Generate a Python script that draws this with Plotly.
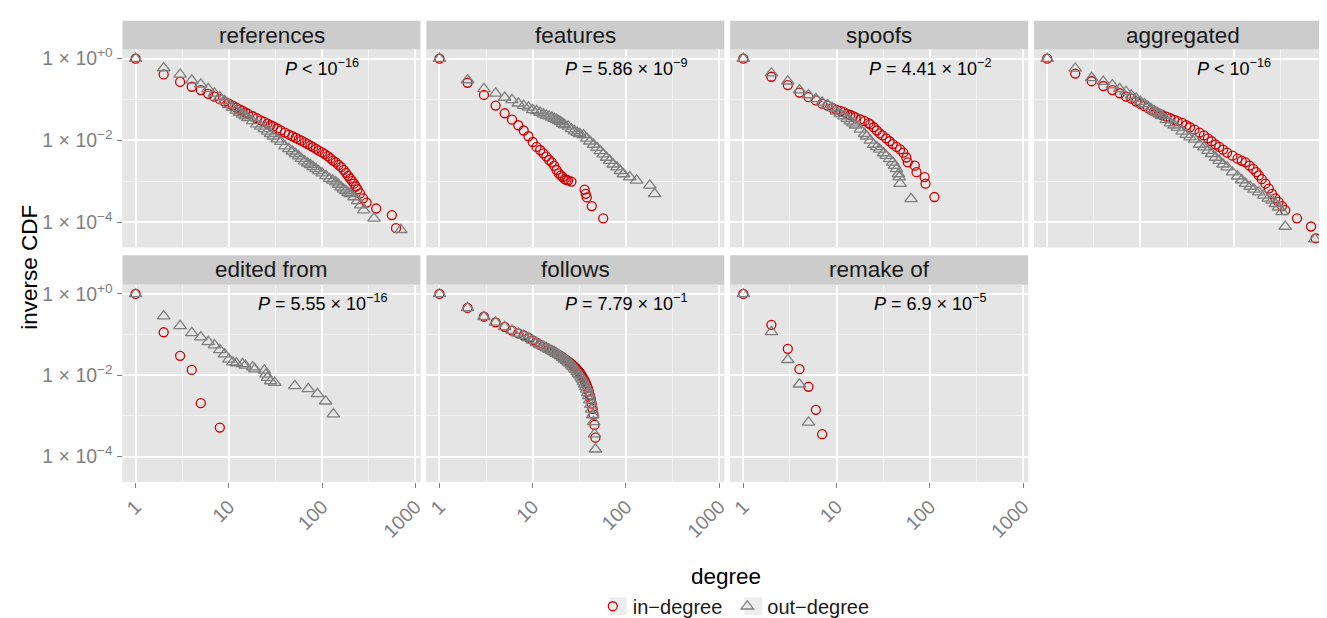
import plotly.graph_objects as go

# ---------------- data ----------------
panel_titles = ["references", "features", "spoofs", "aggregated",
                "edited from", "follows", "remake of"]
p_labels = ["<i>P</i> < 10<sup>−16</sup>",
            "<i>P</i> = 5.86 × 10<sup>−9</sup>",
            "<i>P</i> = 4.41 × 10<sup>−2</sup>",
            "<i>P</i> < 10<sup>−16</sup>",
            "<i>P</i> = 5.55 × 10<sup>−16</sup>",
            "<i>P</i> = 7.79 × 10<sup>−1</sup>",
            "<i>P</i> = 6.9 × 10<sup>−5</sup>"]
x_tick_vals = [1, 10, 100, 1000]
x_tick_text = ["1", "10", "100", "1000"]
y_tick_vals = [1, 1e-2, 1e-4]
y_tick_text = ["1 × 10<sup>+0</sup>", "1 × 10<sup>−2</sup>", "1 × 10<sup>−4</sup>"]

references_in_deg = [1, 2, 3, 4, 5, 6, 7, 8, 9, 10, 11, 12, 13, 14, 15, 16, 18, 20, 22, 24, 26, 28, 30,
                     33, 36, 40, 44, 48, 52, 56, 60, 65, 70, 75, 80, 86, 92, 100, 107, 115, 123, 131,
                     140, 150, 160, 170, 180, 190, 200, 210, 220, 230, 240, 255, 275, 300, 380, 560, 620]
references_in_ccdf = [1, 0.41, 0.27, 0.205, 0.17, 0.138, 0.117, 0.102, 0.089, 0.079, 0.071, 0.063,
                      0.0575, 0.0525, 0.048, 0.0447, 0.0389, 0.0347, 0.0309, 0.0282, 0.0257, 0.0234,
                      0.0219, 0.0195, 0.0174, 0.0155, 0.0138, 0.0126, 0.0115, 0.0105, 0.0098, 0.0089,
                      0.0081, 0.0074, 0.0068, 0.0062, 0.0056, 0.0051, 0.0046, 0.0041, 0.0036, 0.0032,
                      0.0029, 0.0025, 0.0022, 0.0019, 0.0016, 0.00135, 0.00115, 0.0010, 0.00087,
                      0.00074, 0.00063, 0.0005, 0.00038, 0.0003, 0.000214, 0.000148, 0.0000708]
references_out_deg = [1, 2, 3, 4, 5, 6, 7, 8, 9, 10, 11, 12, 13, 14, 15, 16, 18, 20, 22, 24, 26, 28, 30,
                      33, 36, 40, 44, 48, 52, 56, 60, 65, 70, 75, 80, 86, 92, 100, 110, 120, 130, 140,
                      150, 160, 170, 180, 190, 200, 220, 240, 260, 280, 360, 700]
references_out_ccdf = [1, 0.59, 0.41, 0.295, 0.234, 0.182, 0.141, 0.115, 0.093, 0.074, 0.063, 0.054,
                       0.048, 0.043, 0.039, 0.0355, 0.030, 0.025, 0.0219, 0.019, 0.0166, 0.0145, 0.0126,
                       0.0107, 0.0093, 0.0072, 0.0062, 0.0054, 0.0047, 0.0041, 0.00355, 0.0031, 0.00275,
                       0.0025, 0.00224, 0.002, 0.00178, 0.00158, 0.00135, 0.00115, 0.00105, 0.00095,
                       0.00083, 0.00071, 0.00063, 0.00058, 0.00052, 0.00049, 0.00041, 0.00033, 0.00026,
                       0.000195, 0.000123, 0.0000646]

features_in_deg = [1, 2, 3, 4, 5, 6, 7, 8, 9, 10, 11, 12, 13, 14, 15, 16, 17, 18, 19, 20, 21, 22, 23, 24,
                   26, 36, 37, 38, 43, 57]
features_in_ccdf = [1, 0.257, 0.129, 0.071, 0.046, 0.032, 0.0234, 0.0174, 0.0126, 0.0091, 0.0069, 0.0058,
                    0.0048, 0.004, 0.0033, 0.0029, 0.0024, 0.00188, 0.00155, 0.00138, 0.00126, 0.00112,
                    0.00107, 0.00105, 0.00098, 0.00062, 0.00049, 0.0004, 0.000245, 0.000123]
features_out_deg = [1, 2, 3, 4, 5, 6, 7, 8, 9, 10, 11, 12, 13, 14, 15, 16, 17, 18, 19, 20, 21, 22, 24, 26,
                    28, 30, 32, 35, 38, 41, 45, 49, 53, 57, 62, 67, 73, 80, 87, 94, 110, 130, 180, 203]
features_out_ccdf = [1, 0.30, 0.182, 0.141, 0.112, 0.098, 0.081, 0.071, 0.064, 0.056, 0.0525, 0.048,
                     0.0437, 0.0407, 0.039, 0.0363, 0.0339, 0.0324, 0.0302, 0.0282, 0.0257, 0.024,
                     0.0219, 0.019, 0.017, 0.0155, 0.0145, 0.0135, 0.0112, 0.0095, 0.0079, 0.0066,
                     0.0055, 0.0046, 0.0038, 0.0032, 0.0026, 0.0022, 0.0018, 0.0015, 0.00126, 0.00105,
                     0.00079, 0.00049]

spoofs_in_deg = [1, 2, 3, 4, 5, 6, 7, 8, 9, 10, 11, 12, 13, 14, 15, 16, 18, 20, 22, 23, 25, 27, 29, 31,
                 34, 37, 40, 44, 48, 52, 56, 58, 69, 72, 88, 90, 112]
spoofs_in_ccdf = [1, 0.36, 0.226, 0.148, 0.114, 0.095, 0.079, 0.071, 0.062, 0.056, 0.0525, 0.049, 0.0447,
                  0.0417, 0.039, 0.0363, 0.0324, 0.0295, 0.0263, 0.0245, 0.0209, 0.0174, 0.0148, 0.0132,
                  0.0112, 0.0095, 0.0081, 0.0069, 0.006, 0.005, 0.0038, 0.0029, 0.0024, 0.00166,
                  0.00126, 0.00087, 0.00041]
spoofs_out_deg = [1, 2, 3, 4, 5, 6, 7, 8, 9, 10, 11, 12, 13, 14, 15, 16, 18, 20, 21, 23, 25, 27, 29, 32,
                  34, 37, 40, 42, 44, 46, 47, 48, 63]
spoofs_out_ccdf = [1, 0.44, 0.28, 0.17, 0.129, 0.104, 0.085, 0.074, 0.062, 0.051, 0.0447, 0.039, 0.0339,
                   0.0295, 0.0263, 0.0234, 0.0186, 0.0145, 0.0126, 0.01, 0.0079, 0.0069, 0.006, 0.0049,
                   0.0042, 0.0035, 0.0029, 0.0024, 0.002, 0.0015, 0.00126, 0.00087, 0.00037]

aggregated_in_deg = [1, 2, 3, 4, 5, 6, 7, 8, 9, 10, 11, 12, 13, 14, 15, 16, 17, 19, 21, 23, 25, 28, 31,
                     34, 38, 43, 48, 53, 58, 64, 70, 77, 85, 97, 110, 122, 134, 148, 162, 175, 186, 200,
                     219, 238, 258, 280, 303, 330, 357, 478, 676, 757]
aggregated_in_ccdf = [1, 0.43, 0.28, 0.214, 0.17, 0.142, 0.118, 0.105, 0.089, 0.078, 0.069, 0.062, 0.056,
                      0.051, 0.048, 0.0447, 0.0417, 0.038, 0.0347, 0.0316, 0.0295, 0.0269, 0.0234,
                      0.0209, 0.0182, 0.0155, 0.0132, 0.0112, 0.0095, 0.0079, 0.0069, 0.0059, 0.005,
                      0.0042, 0.00355, 0.00316, 0.0029, 0.0024, 0.002, 0.00166, 0.00138, 0.00112,
                      0.00087, 0.00066, 0.00049, 0.00038, 0.00031, 0.000245, 0.000195, 0.000123,
                      0.0000776, 0.0000398]
aggregated_out_deg = [1, 2, 3, 4, 5, 6, 7, 8, 9, 10, 11, 12, 13, 14, 15, 16, 17, 19, 21, 23, 25, 28, 31,
                      34, 38, 43, 48, 53, 58, 64, 70, 77, 85, 97, 110, 122, 134, 150, 165, 186, 210,
                      235, 258, 280, 303, 330, 357, 743]
aggregated_out_ccdf = [1, 0.575, 0.34, 0.275, 0.226, 0.182, 0.155, 0.126, 0.107, 0.089, 0.078, 0.068,
                       0.059, 0.0525, 0.048, 0.0437, 0.0398, 0.0316, 0.0263, 0.0234, 0.0204, 0.0166,
                       0.0138, 0.012, 0.0105, 0.0079, 0.0068, 0.0056, 0.0047, 0.0038, 0.0032, 0.0026,
                       0.0022, 0.00166, 0.00132, 0.00107, 0.00087, 0.00074, 0.00063, 0.00054, 0.00045,
                       0.00038, 0.00034, 0.00028, 0.00023, 0.000178, 0.0000776, 0.000038]

edited_in_deg = [1, 2, 3, 4, 5, 8]
edited_in_ccdf = [1, 0.114, 0.030, 0.0135, 0.00205, 0.000514]
edited_out_deg = [1, 2, 3, 4, 5, 6, 7, 8, 9, 10, 11, 12, 14, 15, 18, 19, 24, 25, 26, 28, 31, 51, 71, 89,
                  109, 132]
edited_out_ccdf = [1, 0.286, 0.164, 0.11, 0.087, 0.066, 0.055, 0.042, 0.033, 0.0245, 0.0209, 0.020,
                   0.019, 0.0174, 0.0158, 0.0141, 0.0132, 0.0105, 0.0087, 0.0072, 0.0066, 0.0055,
                   0.0046, 0.00347, 0.00229, 0.0011]

follows_in_deg = [1, 2, 3, 4, 5, 6, 7, 8, 9, 10, 11, 12, 13, 14, 15, 16, 17, 18, 19, 20, 21, 22, 23, 24,
                  25, 26, 27, 28, 29, 30, 31, 32, 33, 34, 35, 36, 37, 38, 39, 40, 41, 42, 43, 44, 45,
                  46, 47]
follows_in_ccdf = [1, 0.453, 0.275, 0.2, 0.155, 0.125, 0.107, 0.095, 0.083, 0.072, 0.063, 0.056, 0.051,
                   0.047, 0.0427, 0.0398, 0.0372, 0.0339, 0.0316, 0.0295, 0.0275, 0.0251, 0.0234,
                   0.0219, 0.0204, 0.019, 0.0174, 0.0162, 0.0151, 0.0138, 0.0126, 0.0115, 0.0105,
                   0.0093, 0.0083, 0.0074, 0.0065, 0.0056, 0.0048, 0.004, 0.0032, 0.0026, 0.002,
                   0.00148, 0.00107, 0.0006, 0.00029]
follows_out_deg = [1, 2, 3, 4, 5, 6, 7, 8, 9, 10, 11, 12, 13, 14, 15, 16, 17, 18, 19, 20, 21, 22, 23, 24,
                   25, 26, 27, 28, 29, 30, 31, 32, 33, 34, 35, 36, 37, 38, 39, 40, 41, 42, 43, 44, 45,
                   46, 47]
follows_out_ccdf = [1, 0.453, 0.275, 0.2, 0.155, 0.125, 0.107, 0.095, 0.083, 0.072, 0.063, 0.056, 0.051,
                    0.047, 0.0427, 0.0398, 0.0372, 0.0339, 0.0316, 0.0295, 0.0269, 0.0245, 0.0229,
                    0.0209, 0.0195, 0.0178, 0.0162, 0.0148, 0.0135, 0.0123, 0.011, 0.01, 0.0089,
                    0.0079, 0.0069, 0.006, 0.0052, 0.0045, 0.0037, 0.0031, 0.00245, 0.0019, 0.00145,
                    0.00105, 0.00071, 0.000355, 0.000151]

remake_in_deg = [1, 2, 3, 4, 5, 6, 7]
remake_in_ccdf = [1, 0.174, 0.0447, 0.0141, 0.0052, 0.00141, 0.000355]
remake_out_deg = [1, 2, 3, 4, 5]
remake_out_ccdf = [1, 0.117, 0.024, 0.006, 0.00069]

series = [
    (references_in_deg, references_in_ccdf, references_out_deg, references_out_ccdf),
    (features_in_deg, features_in_ccdf, features_out_deg, features_out_ccdf),
    (spoofs_in_deg, spoofs_in_ccdf, spoofs_out_deg, spoofs_out_ccdf),
    (aggregated_in_deg, aggregated_in_ccdf, aggregated_out_deg, aggregated_out_ccdf),
    (edited_in_deg, edited_in_ccdf, edited_out_deg, edited_out_ccdf),
    (follows_in_deg, follows_in_ccdf, follows_out_deg, follows_out_ccdf),
    (remake_in_deg, remake_in_ccdf, remake_out_deg, remake_out_ccdf),
]
for s in series:
    assert len(s[0]) == len(s[1]) and len(s[2]) == len(s[3]), s

# ---------------- layout geometry (pixels) ----------------
W, H = 1327, 618
FONT = "Liberation Sans, Arial, Helvetica, sans-serif"
RED = "#CD0000"
GREY = "#7F7F7F"
col_left = [115, 420, 725, 1030]
panel_w = 299
px_per_decade = 93.6
x_lo = -0.14
row_plot = [(38, 240), (278, 479)]
row_strip = [(9, 38), (248, 278)]
cells = [(0, 0), (0, 1), (0, 2), (0, 3), (1, 0), (1, 1), (1, 2)]
y_range = [-4.62, 0.23]

fig = go.Figure()
layout = dict(
    width=W, height=H, autosize=False,
    margin=dict(l=0, r=0, t=0, b=0),
    paper_bgcolor="white", plot_bgcolor="#E5E5E5",
    font=dict(family=FONT, color="black"),
    showlegend=True,
    legend=dict(orientation="h", x=0.549, xanchor="center", y=1 - 606 / H, yanchor="middle",
                font=dict(size=20, color="#1A1A1A"), bgcolor="rgba(0,0,0,0)",
                itemwidth=30, tracegroupgap=0),
)
shapes = []
annotations = []

for i, ((r, c), title, plab, (din, cin, dout, cout)) in enumerate(zip(cells, panel_titles, p_labels, series)):
    n = i + 1
    xa = "x" if n == 1 else f"x{n}"
    ya = "y" if n == 1 else f"y{n}"
    left = col_left[c]
    right = min(left + panel_w, W)
    top, bot = row_plot[r]
    show_x = (r == 1)
    show_y = (c == 0)
    layout[f"xaxis{'' if n == 1 else n}"] = dict(
        type="log", domain=[left / W, right / W], anchor=ya,
        range=[x_lo, x_lo + (right - left) / px_per_decade],
        tickmode="array", tickvals=x_tick_vals, ticktext=x_tick_text,
        showticklabels=show_x, ticks="outside" if show_x else "", ticklen=5, tickwidth=1,
        tickcolor=GREY, tickangle=-45, tickfont=dict(size=19.5, color=GREY),
        showgrid=True, gridcolor="white", gridwidth=1.6, zeroline=False, showline=False,
        minor=dict(tickvals=[3.1623, 31.623, 316.23], showgrid=True, gridcolor="#F2F2F2",
                   gridwidth=0.8, ticks=""),
    )
    layout[f"yaxis{'' if n == 1 else n}"] = dict(
        type="log", domain=[1 - bot / H, 1 - top / H], anchor=xa, range=y_range,
        tickmode="array", tickvals=y_tick_vals, ticktext=y_tick_text,
        showticklabels=show_y, ticks="outside" if show_y else "", ticklen=5, tickwidth=1,
        tickcolor=GREY, tickfont=dict(size=19.5, color=GREY),
        showgrid=True, gridcolor="white", gridwidth=1.6, zeroline=False, showline=False,
        minor=dict(tickvals=[0.1, 0.001], showgrid=True, gridcolor="#F2F2F2",
                   gridwidth=0.8, ticks=""),
    )
    # panel background
    shapes.append(dict(type="rect", xref="paper", yref="paper", layer="below",
                       x0=left / W, x1=right / W, y0=1 - bot / H, y1=1 - top / H,
                       fillcolor="#E5E5E5", line=dict(width=0)))
    # strip
    s_top, s_bot = row_strip[r]
    shapes.append(dict(type="rect", xref="paper", yref="paper",
                       x0=left / W, x1=right / W, y0=1 - s_bot / H, y1=1 - s_top / H,
                       fillcolor="#CCCCCC", line=dict(width=0)))
    annotations.append(dict(text=title, xref="paper", yref="paper",
                            x=(left + min(left + panel_w, W + 2)) / 2 / W, y=1 - (s_top + s_bot) / 2 / H,
                            showarrow=False, xanchor="center", yanchor="middle",
                            font=dict(size=22.5, color="#1A1A1A")))
    annotations.append(dict(text=plab, xref=xa, yref=ya, x=2.0, y=-0.22, showarrow=False,
                            xanchor="center", yanchor="middle", font=dict(size=18, color="black")))

    fig.add_trace(go.Scatter(x=din, y=cin, mode="markers", xaxis=xa, yaxis=ya,
                             name="in−degree", legendgroup="in", showlegend=(n == 1),
                             marker=dict(symbol="circle-open", size=9, color=RED,
                                         line=dict(width=1.3, color=RED)),
                             cliponaxis=True))
    fig.add_trace(go.Scatter(x=dout, y=cout, mode="markers", xaxis=xa, yaxis=ya,
                             name="out−degree", legendgroup="out", showlegend=(n == 1),
                             marker=dict(symbol="triangle-up-open", size=11, color=GREY,
                                         line=dict(width=1.3, color=GREY)),
                             cliponaxis=True))

# legend key backgrounds (ggplot-style grey squares behind the legend symbols)
for kx in (612, 748):
    shapes.append(dict(type="rect", xref="paper", yref="paper", layer="below",
                       x0=(kx - 9) / W, x1=(kx + 9) / W, y0=1 - 615 / H, y1=1 - 597 / H,
                       fillcolor="#EDEDED", line=dict(width=0)))

annotations.append(dict(text="degree", xref="paper", yref="paper", x=(115 + W) / 2 / W,
                        y=1 - 576 / H, showarrow=False, xanchor="center", yanchor="middle",
                        font=dict(size=22.5, color="black")))
annotations.append(dict(text="inverse CDF", xref="paper", yref="paper", x=22 / W,
                        y=1 - 260 / H, showarrow=False, xanchor="center", yanchor="middle",
                        textangle=-90, font=dict(size=22.5, color="black")))

layout["shapes"] = shapes
layout["annotations"] = annotations
fig.update_layout(**layout)
fig.write_html("out.html")
